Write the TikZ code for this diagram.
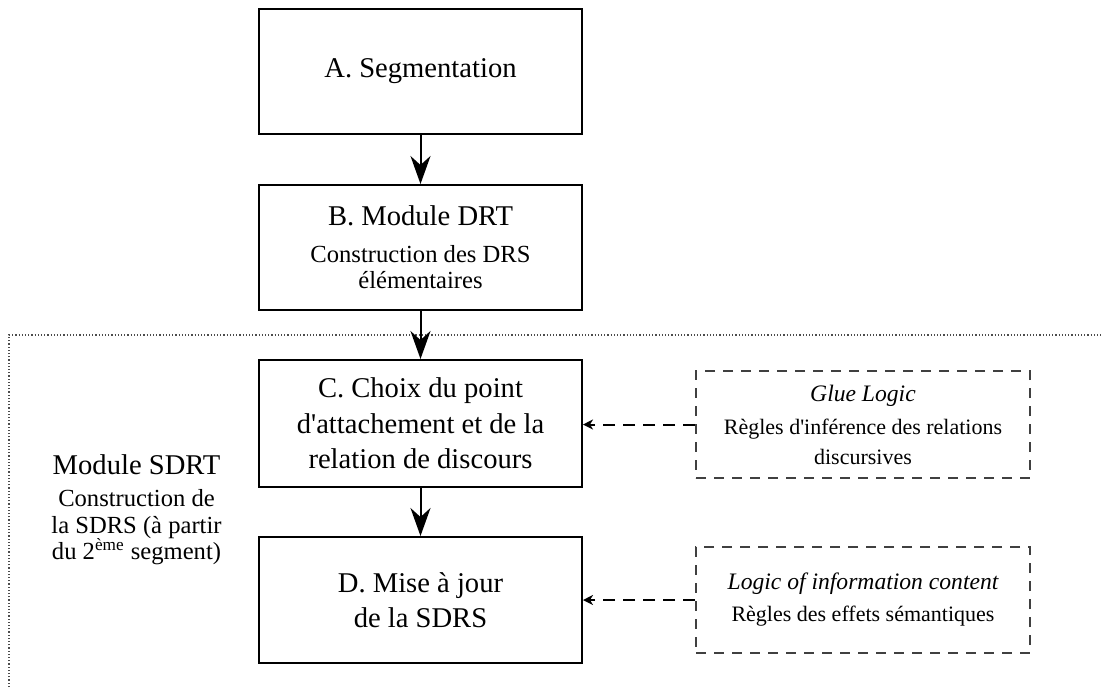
\documentclass[tikz,border=0pt]{standalone}
\usepackage{fontspec}
\setmainfont{Liberation Serif}
\usetikzlibrary{arrows.meta}
\newcommand\fsmain{\fontsize{14.3}{17.7}\selectfont}
\newcommand\fssub{\fontsize{12.3}{13.3}\selectfont}
\newcommand\fsrule{\fontsize{11}{15}\selectfont}
\newcommand\fsital{\itshape\fontsize{11.8}{15}\selectfont}
\newcommand\apos{\textquotesingle}
\tikzset{
  stepbox/.style={draw, line width=1pt, minimum width=161.5pt, align=center, inner sep=0pt},
  rulebox/.style={draw=black!75, line width=0.8pt, dash pattern=on 5pt off 4pt, minimum width=167pt, align=center, inner sep=0pt},
  flow/.style={draw, line width=1pt, -{Stealth[length=14pt,width=10pt,inset=4.5pt]}},
  feed/.style={draw, line width=1pt, dash pattern=on 6pt off 4pt, -{Stealth[length=5pt,width=5pt,inset=1.5pt]}},
  region/.style={draw=black!70, line width=0.6pt, dash pattern=on 0.6pt off 1pt},
}
\begin{document}
\begin{tikzpicture}[x=0.5pt,y=-0.5pt]
\useasboundingbox (0,0) rectangle (1103,687);

\node[stepbox, minimum height=62.5pt, font=\fsmain] (A) at (420.5,71.5) {A. Segmentation};
\node[stepbox, minimum height=62.5pt, font=\fssub] (B) at (420.5,247.5)
  {{\fsmain B. Module DRT}\\[5pt]Construction des DRS\\élémentaires};
\node[stepbox, minimum height=63.5pt, font=\fsmain] (C) at (420.5,423.5)
  {C. Choix du point\\d\apos attachement et de la\\relation de discours};
\node[stepbox, minimum height=63pt, font=\fontsize{14.3}{17.5}\selectfont] (D) at (420.5,600)
  {D. Mise à jour\\de la SDRS};

\node[rulebox, minimum height=53.5pt, font=\fsrule] (glue) at (863,424.5)
  {{\fsital Glue Logic}\\[1.5pt]Règles d\apos inférence des relations\\discursives};
\node[rulebox, minimum height=53pt, font=\fontsize{11}{16}\selectfont] (lic) at (863,600)
  {{\fsital Logic of information content}\\Règles des effets sémantiques};

\node[align=center, font=\fssub, inner sep=0pt] (sdrt) at (136.5,510)
  {{\fsmain Module SDRT}\\[2.5pt]Construction de\\la SDRS (à partir\\du 2\textsuperscript{ème} segment)};

\coordinate (regionBL) at (9,687);
\coordinate (regionTL) at (9,335);
\coordinate (regionTR) at (1103,335);
\draw[region] (regionBL) -- (regionTL) -- (regionTR);

\draw[flow] (A) -- (B);
\draw[flow] (B) -- (C);
\draw[flow] (C) -- (D);
\draw[feed] (glue.west) -- (C.east |- glue.west);
\draw[feed] (lic.west) -- (D.east |- lic.west);
\end{tikzpicture}
\end{document}
